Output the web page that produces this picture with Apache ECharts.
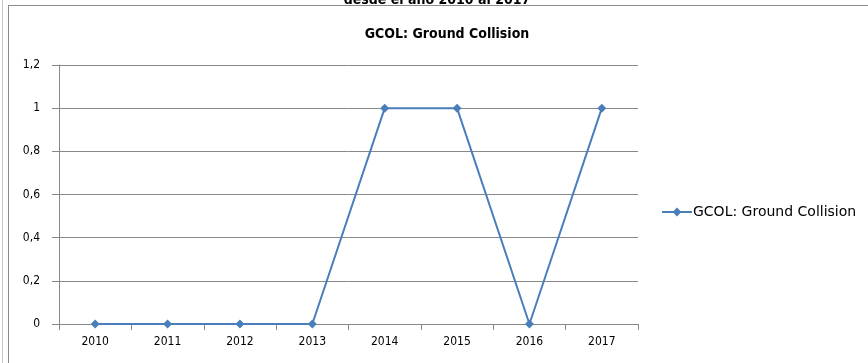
<!DOCTYPE html>
<html>
<head>
<meta charset="utf-8">
<style>
  html, body { margin: 0; padding: 0; background: #fff; }
  #chart { width: 868px; height: 363px; }
</style>
<script src="https://cdn.jsdelivr.net/npm/echarts@6/dist/echarts.min.js"></script>
</head>
<body>
<div id="chart"></div>
<script>
const years = ['2010', '2011', '2012', '2013', '2014', '2015', '2016', '2017'];
const gcolValues = [0, 0, 0, 0, 1, 1, 0, 1];
const seriesName = 'GCOL: Ground Collision';

const chart = echarts.init(document.getElementById('chart'));

// etiquetas con coma decimal
const fmt = (v) => String(Math.round(v * 10) / 10).replace('.', ',');

chart.setOption({
  animation: false,
  textStyle: { fontFamily: 'DejaVu Sans Condensed, DejaVu Sans, sans-serif' },
  title: [
    {
      text: 'desde el año 2010 al 2017',
      left: 432,
      top: -12,
      textAlign: 'center',
      textStyle: { fontSize: 14, fontWeight: 'bold', color: '#000' },
    },
    {
      text: 'GCOL: Ground Collision',
      left: 442,
      top: 22,
      textAlign: 'center',
      textStyle: { fontSize: 14, fontWeight: 'bold', color: '#000' },
    },
  ],
  graphic: [
    { type: 'line', shape: { x1: 2.5, y1: 0, x2: 2.5, y2: 363 }, style: { stroke: '#c8c8c8', lineWidth: 1 } },
    { type: 'line', shape: { x1: 8.5, y1: 6, x2: 8.5, y2: 363 }, style: { stroke: '#8c8c8c', lineWidth: 1 } },
    { type: 'line', shape: { x1: 8, y1: 5.5, x2: 868, y2: 5.5 }, style: { stroke: '#8c8c8c', lineWidth: 1 } },
  ],
  legend: {
    left: 656,
    top: 200,
    itemWidth: 30,
    itemHeight: 11,
    itemGap: 0,
    textStyle: { fontSize: 14, color: '#000', fontFamily: 'DejaVu Sans', padding: [0, 0, 0, -4] },
    data: [seriesName],
  },
  grid: { left: 59, right: 230, top: 65, bottom: 39 },
  xAxis: {
    type: 'category',
    data: years,
    boundaryGap: true,
    axisLine: { lineStyle: { color: '#888', width: 1 } },
    axisTick: { show: true, inside: false, length: 6, alignWithLabel: false, lineStyle: { color: '#888' } },
    axisLabel: { color: '#000', fontSize: 12, margin: 12 },
  },
  yAxis: {
    type: 'value',
    min: 0,
    max: 1.2,
    interval: 0.2,
    axisLine: { show: true, lineStyle: { color: '#888', width: 1 } },
    axisTick: { show: true, length: 7, lineStyle: { color: '#888' } },
    axisLabel: { color: '#000', fontSize: 12, margin: 19, formatter: fmt },
    splitLine: { lineStyle: { color: '#888', width: 1 } },
  },
  series: [
    {
      name: seriesName,
      type: 'line',
      data: gcolValues,
      symbol: 'diamond',
      symbolSize: 9,
      lineStyle: { color: '#4a7ebb', width: 2 },
      itemStyle: { color: '#4a7ebb' },
    },
  ],
});
</script>
</body>
</html>
